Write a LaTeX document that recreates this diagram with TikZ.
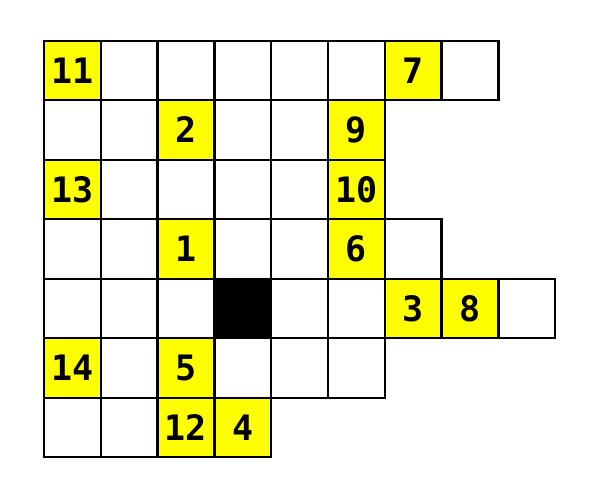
\documentclass[tikz,border=0pt]{standalone}
\usepackage{fontspec}
\newfontfamily\numfont{DejaVu Sans Mono}
\definecolor{cluey}{RGB}{255,255,0}
\begin{document}
\begin{tikzpicture}[x=1pt,y=-1pt,
  cell/.style={draw=black, line width=2.3pt, minimum width=56.8pt, minimum height=59.5pt,
    inner sep=0pt, outer sep=0pt, anchor=north west, fill=white,
    font=\numfont\bfseries\fontsize{35}{35}\selectfont},
  clue/.style={cell, fill=cluey},
  blockcell/.style={cell, fill=black}]
\useasboundingbox (0,0) rectangle (590,502);
\def\xo{44}\def\yo{40.7}\def\cw{56.8}\def\rh{59.5}
% white cells
\foreach \r/\c in {0/1,0/2,0/3,0/4,0/5,0/7,
                   1/0,1/1,1/3,1/4,
                   2/1,2/2,2/3,2/4,
                   3/0,3/1,3/3,3/4,3/6,
                   4/0,4/1,4/2,4/4,4/5,4/8,
                   5/1,5/3,5/4,5/5,
                   6/0,6/1}
  \node[cell] (w-\r-\c) at ({\xo+\c*\cw},{\yo+\r*\rh}) {};
% black cell
\node[blockcell] (b-4-3) at ({\xo+3*\cw},{\yo+4*\rh}) {};
% clue cells
\foreach \n/\r/\c in {11/0/0,7/0/6,2/1/2,9/1/5,13/2/0,10/2/5,1/3/2,6/3/5,
                      3/4/6,8/4/7,14/5/0,5/5/2,12/6/2,4/6/3}
  \node[clue] (clue-\n) at ({\xo+\c*\cw},{\yo+\r*\rh}) {\n};
\end{tikzpicture}
\end{document}
